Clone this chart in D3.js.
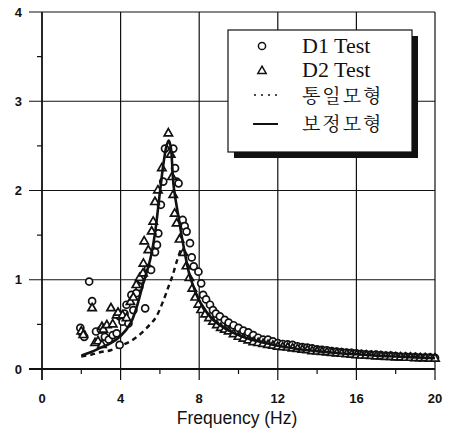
<!DOCTYPE html>
<html><head><meta charset="utf-8">
<script src="https://cdn.jsdelivr.net/npm/d3@7/dist/d3.min.js"></script>
<style>
html,body{margin:0;padding:0;background:#fff;}
svg{display:block;}
</style></head>
<body>
<svg id="chart" width="452" height="430"></svg>
<script>
// ---- data ----
const xTicks = [0, 4, 8, 12, 16, 20];
const yTicks = [0, 1, 2, 3, 4];
const xMinor = [2, 6, 10, 14, 18];
const yMinor = [0.5, 1.5, 2.5, 3.5];
const xTitle = "Frequency (Hz)";
const legendLabels = ["D1 Test", "D2 Test", "통일모형", "보정모형"];

const d1Freq = [1.95,2.05,2.15,2.40,2.55,2.75,3.00,3.20,3.40,3.60,3.80,3.95,3.95,4.10,4.20,4.30,4.40,4.55,4.65,4.80,4.95,5.05,5.15,5.25,5.40,5.55,5.75,5.85,5.92,6.05,6.17,6.26,6.68,6.77,6.85,6.95,7.16,7.26,7.36,7.53,7.62,7.72,7.96,8.10,8.20,8.35,8.55,8.70,8.85,9.05,9.30,9.50,9.75,10.00,10.25,10.50,10.75,11.00,11.25,11.50,11.75,12.00,12.25,12.50,12.75,13.00,13.25,13.50,13.75,14.00,14.25,14.50,14.75,15.00,15.25,15.50,15.75,16.00,16.25,16.50,16.75,17.00,17.25,17.50,17.75,18.00,18.25,18.50,18.75,19.00,19.25,19.50,19.75,20.00];
const d1Amp  = [0.46,0.40,0.36,0.98,0.76,0.42,0.44,0.36,0.33,0.38,0.40,0.27,0.59,0.53,0.62,0.72,0.51,0.83,0.66,0.85,0.92,1.00,1.05,0.68,1.13,1.11,1.31,1.39,1.52,1.84,2.10,2.47,2.47,2.25,2.10,2.08,1.67,1.60,1.54,1.41,1.25,1.15,1.09,0.96,0.83,0.78,0.72,0.66,0.62,0.59,0.55,0.52,0.49,0.46,0.43,0.41,0.38,0.35,0.33,0.33,0.31,0.29,0.28,0.275,0.27,0.255,0.245,0.24,0.23,0.22,0.215,0.21,0.20,0.195,0.19,0.185,0.18,0.175,0.17,0.165,0.16,0.16,0.155,0.15,0.15,0.145,0.14,0.14,0.135,0.135,0.13,0.13,0.13,0.125];

const d2Freq = [2.00,2.10,2.55,2.70,2.85,3.05,3.05,3.12,3.30,3.51,3.60,3.80,3.87,4.10,4.30,4.50,4.65,4.80,4.97,5.14,5.16,5.20,5.41,5.58,5.66,5.75,5.90,6.10,6.43,6.55,6.62,6.68,6.75,6.85,7.00,7.20,7.35,7.50,7.65,7.80,7.96,8.10,8.30,8.50,8.70,8.90,9.10,9.30,9.50,9.75,10.00,10.25,10.50,10.75,11.00,11.25,11.50,11.75,12.00,12.25,12.50,12.75,13.00,13.25,13.50,13.75,14.00,14.25,14.50,14.75,15.00,15.25,15.50,15.75,16.00,16.25,16.50,16.75,17.00,17.25,17.50,17.75,18.00,18.25,18.50,18.75,19.00,19.25,19.50,19.75,20.00];
const d2Amp  = [0.42,0.38,0.68,0.29,0.31,0.27,0.47,0.44,0.49,0.68,0.50,0.60,0.63,0.60,0.57,0.75,0.80,0.94,1.02,1.07,1.18,1.43,1.33,1.54,1.65,1.87,2.00,2.25,2.64,2.40,2.15,1.95,1.74,1.63,1.45,1.30,1.15,1.02,0.90,0.80,0.72,0.66,0.61,0.57,0.53,0.49,0.46,0.44,0.42,0.39,0.36,0.34,0.32,0.30,0.29,0.28,0.27,0.26,0.25,0.245,0.24,0.23,0.225,0.215,0.21,0.20,0.195,0.19,0.185,0.18,0.175,0.17,0.165,0.16,0.155,0.15,0.15,0.145,0.14,0.14,0.135,0.135,0.13,0.13,0.125,0.125,0.12,0.12,0.12,0.115,0.115];

const fitFreq = [2.0,2.5,3.0,3.5,4.0,4.5,4.8,5.15,5.5,5.75,6.0,6.2,6.35,6.45,6.55,6.7,6.95,7.2,7.5,7.75,8.0,8.25,8.5,8.75,9.0,9.5,10.0,10.5,11.0,12.0,13.0,14.0,15.0,16.0,17.0,18.0,19.0,20.0];
const fitAmp  = [0.15,0.19,0.24,0.29,0.37,0.51,0.68,0.96,1.22,1.52,1.98,2.33,2.51,2.56,2.49,2.05,1.70,1.38,1.06,0.90,0.77,0.68,0.60,0.54,0.50,0.43,0.38,0.34,0.31,0.26,0.225,0.20,0.18,0.165,0.15,0.14,0.13,0.12];

const uniFreq = [2.0,2.5,3.0,3.5,4.0,4.5,5.0,5.5,5.8,6.2,6.45,6.65,6.85,7.05];
const uniAmp  = [0.14,0.16,0.19,0.21,0.26,0.31,0.39,0.50,0.58,0.78,0.93,1.05,1.20,1.33];

// ---- chart ----
const svg = d3.select("#chart");
const x = d3.scaleLinear().domain([0, 20]).range([42, 435]);
const y = d3.scaleLinear().domain([0, 4]).range([369, 12]);
const ink = "#111";

const g = svg.append("g");
g.selectAll(".vg").data(xTicks).join("line")
  .attr("x1", d => x(d)).attr("x2", d => x(d))
  .attr("y1", y(4)).attr("y2", y(0) + 11)
  .attr("stroke", ink).attr("stroke-width", d => d === 0 ? 1.8 : 1.2);
g.selectAll(".hg").data(yTicks).join("line")
  .attr("y1", d => y(d)).attr("y2", d => y(d))
  .attr("x1", x(0) - 13).attr("x2", x(20))
  .attr("stroke", ink).attr("stroke-width", d => d === 0 ? 1.8 : 1.2);
g.selectAll(".xm").data(xMinor).join("line")
  .attr("x1", d => x(d)).attr("x2", d => x(d))
  .attr("y1", y(0)).attr("y2", y(0) + 5)
  .attr("stroke", ink).attr("stroke-width", 1.2);
g.selectAll(".ym").data(yMinor).join("line")
  .attr("y1", d => y(d)).attr("y2", d => y(d))
  .attr("x1", x(0) - 5).attr("x2", x(0))
  .attr("stroke", ink).attr("stroke-width", 1.2);

const tickFont = "'Liberation Sans', Arial, sans-serif";
g.selectAll(".xl").data(xTicks).join("text")
  .attr("x", d => x(d)).attr("y", 403)
  .attr("text-anchor", "middle")
  .attr("font-family", tickFont).attr("font-size", 13).attr("font-weight", "bold")
  .attr("fill", ink).text(d => d);
g.selectAll(".yl").data(yTicks).join("text")
  .attr("x", 22).attr("y", d => y(d)).attr("dy", "0.36em")
  .attr("text-anchor", "end")
  .attr("font-family", tickFont).attr("font-size", 13).attr("font-weight", "bold")
  .attr("fill", ink).text(d => d);
svg.append("text")
  .attr("x", 237).attr("y", 424).attr("text-anchor", "middle")
  .attr("font-family", tickFont).attr("font-size", 17.5)
  .attr("fill", ink).text(xTitle);

const line = d3.line().x(d => x(d[0])).y(d => y(d[1])).curve(d3.curveCatmullRom.alpha(0.5));
const uniData = uniFreq.map((f, i) => [f, uniAmp[i]]);
const fitData = fitFreq.map((f, i) => [f, fitAmp[i]]);
svg.append("path").datum(uniData).attr("d", line)
  .attr("fill", "none").attr("stroke", ink).attr("stroke-width", 2.4)
  .attr("stroke-dasharray", "5,4");

const d1 = d1Freq.map((f, i) => [f, d1Amp[i]]);
const d2 = d2Freq.map((f, i) => [f, d2Amp[i]]);
svg.append("g").selectAll("circle").data(d1).join("circle")
  .attr("cx", d => x(d[0])).attr("cy", d => y(d[1])).attr("r", 3.5)
  .attr("fill", "#fff").attr("stroke", ink).attr("stroke-width", 1.7);
const tri = d3.symbol().type(d3.symbolTriangle).size(30);
svg.append("g").selectAll("path").data(d2).join("path")
  .attr("d", tri)
  .attr("transform", d => `translate(${x(d[0])},${y(d[1])})`)
  .attr("fill", "#fff").attr("stroke", ink).attr("stroke-width", 1.7);

svg.append("path").datum(fitData).attr("d", line)
  .attr("fill", "none").attr("stroke", ink).attr("stroke-width", 2.6);

// legend
const lg = svg.append("g");
lg.append("rect").attr("x", 234).attr("y", 36).attr("width", 184).attr("height", 122).attr("fill", ink);
lg.append("rect").attr("x", 228).attr("y", 30).attr("width", 184).attr("height", 122)
  .attr("fill", "#fff").attr("stroke", ink).attr("stroke-width", 1.2);
const rowsY = [45, 69, 96, 124];
lg.append("circle").attr("cx", 262).attr("cy", rowsY[0] + 1).attr("r", 3.6)
  .attr("fill", "#fff").attr("stroke", ink).attr("stroke-width", 1.5);
lg.append("path").attr("d", tri).attr("transform", `translate(262,${rowsY[1] + 2})`)
  .attr("fill", "#fff").attr("stroke", ink).attr("stroke-width", 1.5);
lg.append("line").attr("x1", 254).attr("x2", 280).attr("y1", rowsY[2] - 1).attr("y2", rowsY[2] - 1)
  .attr("stroke", ink).attr("stroke-width", 1.6).attr("stroke-dasharray", "2,5");
lg.append("line").attr("x1", 253).attr("x2", 278).attr("y1", rowsY[3]).attr("y2", rowsY[3])
  .attr("stroke", ink).attr("stroke-width", 2);
lg.selectAll(".lt").data(legendLabels).join("text")
  .attr("x", 302).attr("y", (d, i) => rowsY[i]).attr("dy", "0.35em")
  .attr("font-family", (d, i) => i < 2 ? "'Liberation Serif', 'Times New Roman', serif" : "'Noto Serif CJK KR', 'Noto Sans CJK KR', sans-serif")
  .attr("font-size", (d, i) => i < 2 ? 22 : 19)
  .attr("letter-spacing", (d, i) => i < 2 ? 0 : 2)
  .attr("fill", ink).text(d => d);
</script>
</body></html>
